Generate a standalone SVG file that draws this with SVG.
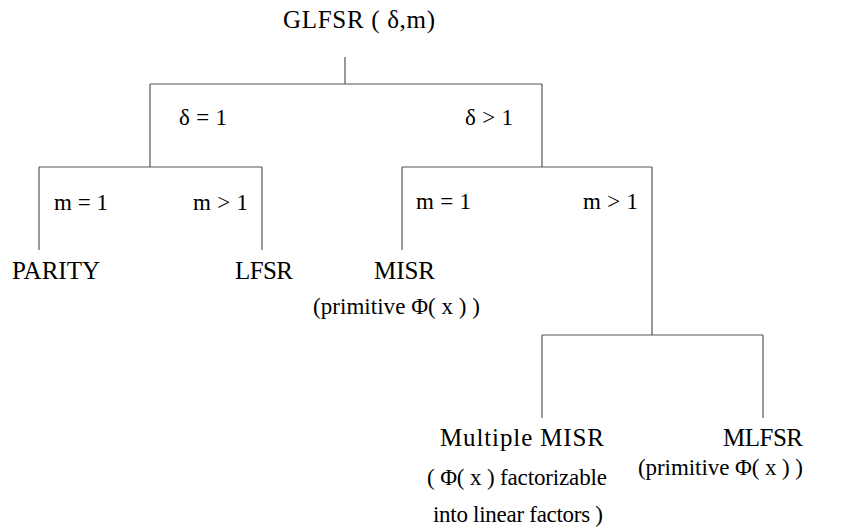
<svg xmlns="http://www.w3.org/2000/svg" width="843" height="527" viewBox="0 0 843 527">
<style>
text{font-family:"Liberation Serif","Times New Roman",serif;fill:#000}
.n{font-size:25px}
.s{font-size:23px}
.e line{stroke:#555;stroke-width:1.2;fill:none}
</style>
<rect width="843" height="527" fill="#fff"/>
<g class="e" id="connectors">
<line x1="345" y1="57" x2="345" y2="84"/>
<line x1="150" y1="84" x2="542" y2="84"/>
<line x1="150" y1="84" x2="150" y2="167"/>
<line x1="542" y1="84" x2="542" y2="167"/>
<line x1="39" y1="167" x2="262" y2="167"/>
<line x1="39" y1="167" x2="39" y2="250"/>
<line x1="262" y1="167" x2="262" y2="250"/>
<line x1="402" y1="167" x2="652" y2="167"/>
<line x1="402" y1="167" x2="402" y2="250"/>
<line x1="652" y1="167" x2="652" y2="335"/>
<line x1="542" y1="335" x2="763" y2="335"/>
<line x1="542" y1="335" x2="542" y2="418"/>
<line x1="763" y1="335" x2="763" y2="418"/>
</g>
<g id="edge-labels">
<text class="s" x="179" y="125" textLength="48">δ = 1</text>
<text class="s" x="465" y="125" textLength="48">δ &gt; 1</text>
<text class="s" x="54" y="210" textLength="54">m = 1</text>
<text class="s" x="193" y="210" textLength="55">m &gt; 1</text>
<text class="s" x="416" y="209" textLength="55">m = 1</text>
<text class="s" x="583" y="209" textLength="55">m &gt; 1</text>
</g>
<g id="root"><text class="n" x="283" y="28" textLength="152">GLFSR (  δ,m)</text></g>
<g id="parity"><text class="n" x="12" y="279" textLength="88">PARITY</text></g>
<g id="lfsr"><text class="n" x="235" y="279" textLength="58">LFSR</text></g>
<g id="misr">
<text class="n" x="374" y="279" textLength="61">MISR</text>
<text class="s" x="313" y="314" textLength="167">(primitive Φ( x  ) )</text>
</g>
<g id="multiple-misr">
<text class="n" x="440" y="446" textLength="164">Multiple MISR</text>
<text class="s" x="427" y="485" textLength="180">( Φ( x  ) factorizable</text>
<text class="s" x="433" y="522" textLength="170">into linear factors )</text>
</g>
<g id="mlfsr">
<text class="n" x="723" y="446" textLength="80">MLFSR</text>
<text class="s" x="638" y="475" textLength="165">(primitive Φ( x  ) )</text>
</g>
</svg>
